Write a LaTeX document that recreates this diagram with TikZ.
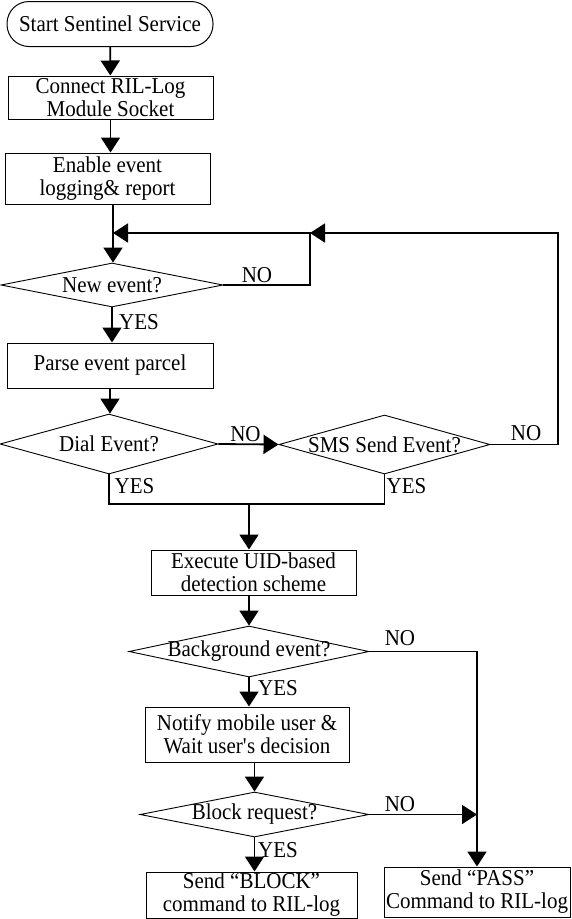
\documentclass[tikz,border=0pt]{standalone}
\usepackage{fontspec}
\setmainfont{Liberation Serif}[FakeStretch=0.925]
\usetikzlibrary{arrows.meta,shapes.geometric}
\begin{document}
\begin{tikzpicture}[x=1pt,y=-1pt,
  every node/.style={font=\fontsize{22.7}{23}\selectfont},
  box/.style={draw,line width=1pt,rectangle,inner sep=0pt,align=center},
  term/.style={draw,line width=1pt,rectangle,rounded corners=22pt,inner sep=0pt},
  dia/.style={draw,line width=0.9pt,diamond,inner sep=0pt},
  lbl/.style={inner sep=0pt},
  conn/.style={line width=1.8pt},
  arr/.style={line width=1.8pt,-{Triangle[length=15pt,width=19pt]}}
]
\useasboundingbox (0,0) rectangle (571,919);
% nodes
\node[term,minimum width=206pt,minimum height=45pt] (start) at (110,24) {Start Sentinel Service};
\node[box,minimum width=205pt,minimum height=43pt] (connect) at (110.5,97.5) {Connect RIL-Log\\Module Socket};
\node[box,minimum width=205pt,minimum height=51pt] (enable) at (107.5,178.5) {Enable event\\logging\& report};
\node[dia,minimum width=222pt,minimum height=44pt] (newev) at (112,285) {};
\node[lbl] (newevt) at (newev.center) {New event?};
\node[box,minimum width=206pt,minimum height=45pt] (parse) at (110,365.5) {Parse event parcel};
\node[dia,minimum width=218pt,minimum height=60pt] (dial) at (109,444) {};
\node[lbl] (dialt) at (dial.center) {Dial Event?};
\node[dia,minimum width=211pt,minimum height=59pt] (sms) at (384.5,444.5) {};
\node[lbl] (smst) at (sms.center) {SMS Send Event?};
\node[box,minimum width=205pt,minimum height=45pt] (exec) at (253.5,572.5) {Execute UID-based\\detection scheme};
\node[dia,minimum width=240pt,minimum height=51pt] (bg) at (249,651.5) {};
\node[lbl] (bgt) at (bg.center) {Background event?};
\node[box,minimum width=204pt,minimum height=55pt] (notify) at (247,734.5) {Notify mobile user \&\\Wait user\textquotesingle s decision};
\node[dia,minimum width=229pt,minimum height=45pt] (block) at (254.5,814.5) {};
\node[lbl] (blockt) at (block.center) {Block request?};
\node[box,minimum width=211pt,minimum height=46pt] (blockbox) at (251.5,895) {Send “BLOCK”\\command to RIL-log};
\node[box,minimum width=186pt,minimum height=50pt] (passbox) at (477,892) {Send “PASS”\\Command to RIL-log};
% helper coordinates
\coordinate (jn) at (113,233);
\coordinate (loopA) at (310,233);
\coordinate (loopB) at (558,233);
\coordinate (yb) at (249,504);
% connectors
\draw[arr] (start) -- (connect);
\draw[arr] (connect) -- (connect |- enable.north);
\draw[arr] (jn |- enable.south) -- (jn |- newev.north);
\draw[arr] (newev.east) -| (loopA) -- (jn);
\draw[arr] (sms.east) -| (loopB) -- (loopA);
\draw[arr] (newev.south) -- (newev.south |- parse.north);
\draw[arr] (parse.south) -- (parse.south |- dial.north);
\draw[arr] (dial.east) -- (sms.west);
\draw[conn] (dial.south) |- (yb) -| (sms.south);
\draw[arr] (yb) -- (yb |- exec.north);
\draw[arr] (yb |- exec.south) -- (bg.north);
\draw[arr] (bg.east) -| (passbox.north);
\draw[arr] (bg.south) -- (bg.south |- notify.north);
\draw[arr] (block.north |- notify.south) -- (block.north);
\draw[arr] (block.east) -- (block.east -| passbox.north);
\draw[arr] (block.south) -- (block.south |- blockbox.north);
% labels
\node[lbl] (yes1) at (139,322) {YES};
\node[lbl] (no1) at (257,275) {NO};
\node[lbl] (no2) at (245.5,434) {NO};
\node[lbl] (no3) at (526,433) {NO};
\node[lbl] (yes2) at (134.5,486) {YES};
\node[lbl] (yes3) at (406.5,486) {YES};
\node[lbl] (no4) at (400,638) {NO};
\node[lbl] (yes4) at (278,688) {YES};
\node[lbl] (no5) at (400,804) {NO};
\node[lbl] (yes5) at (278,850) {YES};
\end{tikzpicture}
\end{document}
